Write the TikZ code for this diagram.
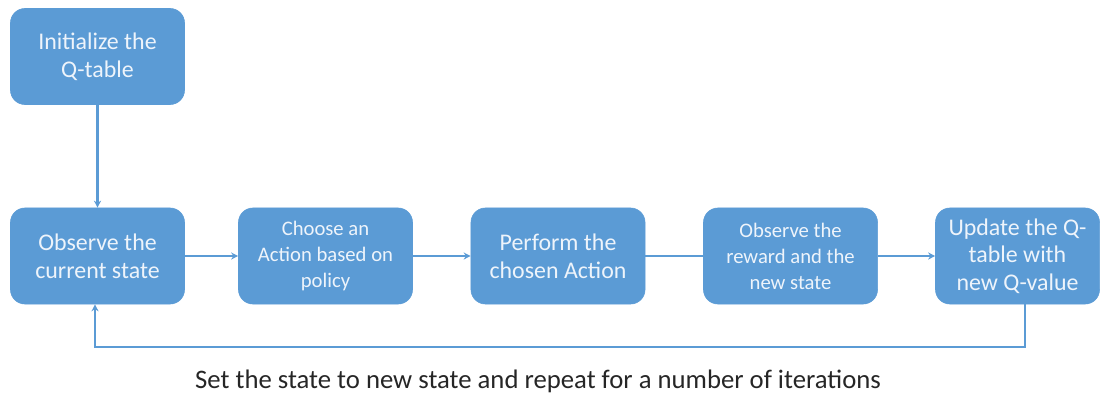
\documentclass[tikz,border=0pt]{standalone}
\usepackage{fontspec}
\setmainfont{Carlito}
\usepackage{tikz}
\usetikzlibrary{arrows.meta}
\definecolor{boxblue}{HTML}{5B9BD5}
\definecolor{boxtext}{HTML}{EEF4FB}

\begin{document}
\begin{tikzpicture}[x=0.025cm, y=-0.025cm,
            stepbox/.style={draw=boxblue, fill=boxblue, rounded corners=0.36cm, align=center, text=boxtext, minimum height=2.4cm, inner sep=0pt},
            bigtext/.style={font=\fontsize{17}{19.7}\selectfont},
            smalltext/.style={font=\fontsize{14.7}{18.5}\selectfont},
            flow/.style={color=boxblue, line width=1.5pt},
            flowarrow/.style={flow, -{Stealth[length=5pt, width=5pt]}}
        ]
            % frame
            \useasboundingbox (0, 0) rectangle (1109, 394);

            % boxes
            \node[stepbox, bigtext, minimum width=4.35cm, minimum height=2.4cm] (init) at (97.5, 56.5) {Initialize the\\Q-table};
            \node[stepbox, bigtext, minimum width=4.35cm] (observe) at (97.5, 256) {Observe the\\current state};
            \node[stepbox, smalltext, minimum width=4.35cm] (choose) at (325.5, 256) {Choose an\\Action based on\\policy};
            \node[stepbox, bigtext, minimum width=4.35cm] (perform) at (558, 256) {Perform the\\chosen Action};
            \node[stepbox, smalltext, minimum width=4.35cm] (reward) at (790.5, 256) {Observe the\\reward and the\\new state};
            \node[stepbox, bigtext, minimum width=4.1cm] (update) at (1017.5, 256) {Update the Q-\\table with\\new Q-value};

            % connectors
            \draw[flowarrow] (init) -- (observe);
            \draw[flowarrow] (observe) -- (choose);
            \draw[flowarrow] (choose) -- (perform);
            \draw[flow] (perform) -- (reward);
            \draw[flowarrow] (reward) -- (update);

            % loop back
            \coordinate (loopright) at (1025, 347);
            \coordinate (loopleft) at (95, 347);
            \draw[flowarrow] (update.south -| loopright) -- (loopright) -- (loopleft) -- (observe.south -| loopleft);

            % caption
            \node[font=\fontsize{19}{22}\selectfont, text=black!85] (caption) at (538, 381) {Set the state to new state and repeat for a number of iterations};

        \end{tikzpicture}
\end{document}
